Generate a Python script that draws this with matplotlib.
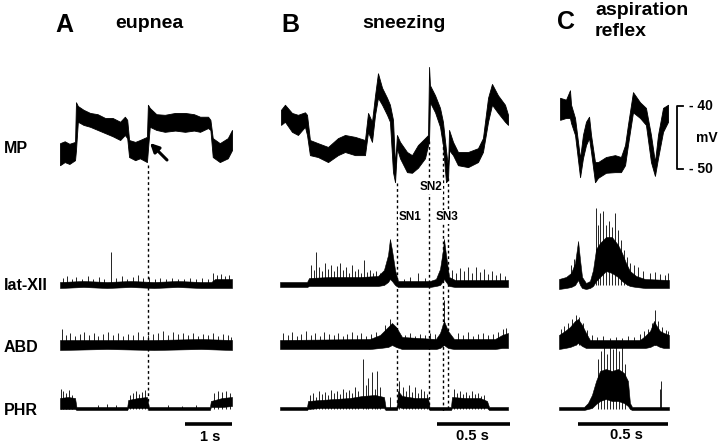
import numpy as np
import matplotlib
import matplotlib.pyplot as plt

matplotlib.rcParams['font.family'] = ['Liberation Sans', 'DejaVu Sans']
matplotlib.rcParams['font.weight'] = 'bold'

# ------------------------------------------------------------
# A: eupnea  (time in s, MP in mV, nerve traces in a.u.)
# ------------------------------------------------------------
a_mp_t = [0.00, 0.10, 0.20, 0.32, 0.34, 0.38, 0.50, 0.64, 0.80, 0.96, 1.12, 1.28, 1.38, 1.43, 1.47, 1.60,
          1.70, 1.85, 1.87, 1.91, 2.05, 2.23, 2.45, 2.66, 2.85, 2.98, 3.15, 3.20, 3.25, 3.40, 3.57, 3.66]
a_mp_hi = [-45.9, -45.6, -46.0, -45.7, -39.4, -40.0, -40.6, -41.1, -41.3, -41.9, -41.9, -42.5, -41.7, -42.2, -45.4, -45.7,
           -45.4, -44.9, -39.8, -40.3, -41.3, -41.4, -41.1, -41.1, -41.3, -41.7, -41.7, -42.2, -45.1, -45.9, -45.1, -43.8]
a_mp_lo = [-49.4, -48.9, -49.2, -48.6, -47.0, -42.5, -43.0, -43.3, -43.8, -44.3, -44.8, -45.4, -44.6, -45.1, -48.1, -48.6,
           -48.3, -48.9, -47.0, -43.3, -43.8, -44.1, -43.9, -44.1, -43.9, -44.1, -43.5, -43.8, -48.1, -48.9, -48.3, -47.0]

a_lat_t = [0.0, 0.5, 1.0, 1.5, 2.0, 2.5, 3.0, 3.22, 3.3, 3.66]
a_lat_hi = [3, 4, 3, 4, 3, 4, 3, 3, 6, 6]
a_lat_lo = [-3, -2, -3, -2, -3, -2, -3, -3, -3, -3]
a_lat_sp_t = [0.06, 0.15, 0.26, 0.34, 0.47, 0.60, 0.70, 0.83, 0.94, 1.09, 1.19, 1.32, 1.43, 1.55, 1.66, 1.77,
              1.89, 2.02, 2.13, 2.26, 2.38, 2.51, 2.64, 2.77, 2.89, 3.02, 3.15, 3.26, 3.34, 3.43, 3.51, 3.60]
a_lat_sp_h = [7, 9, 6, 8, 6, 9, 6, 8, 6, 33, 7, 9, 6, 8, 10, 7, 8, 6, 7, 6, 7, 6, 6, 7, 6, 7, 6, 12, 10, 11, 9, 10]

a_abd_t = [0.0, 1.0, 2.0, 3.0, 3.66]
a_abd_hi = [5, 5, 5, 6, 5]
a_abd_lo = [-5, -4, -5, -4, -5]
a_abd_sp_t = [0.04, 0.13, 0.21, 0.32, 0.43, 0.51, 0.62, 0.72, 0.81, 0.91, 1.02, 1.13, 1.23, 1.34, 1.45, 1.55, 1.66, 1.77,
              1.87, 1.98, 2.09, 2.19, 2.30, 2.40, 2.51, 2.62, 2.72, 2.83, 2.94, 3.04, 3.15, 3.26, 3.36, 3.47, 3.57, 3.64]
a_abd_sp_h = [16, 10, 12, 9, 11, 13, 10, 12, 9, 11, 13, 10, 12, 9, 11, 10, 13, 9,
              10, 11, 12, 14, 10, 13, 11, 12, 10, 12, 9, 11, 10, 12, 9, 11, 10, 8]

a_phr_t = [0.00, 0.17, 0.32, 0.35, 1.43, 1.45, 1.66, 1.85, 1.89, 3.19, 3.21, 3.45, 3.66]
a_phr_hi = [11, 12, 11, 2, 2, 9, 11, 12, 2, 2, 8, 11, 12]
a_phr_lo = [0, 0, 0, -1, -1, 1, 1, 1, -1, -1, 2, 2, 3]
a_phr_sp_t = [0.02, 0.06, 0.13, 0.19, 0.26, 0.8, 1.0, 1.2, 1.49, 1.55, 1.62, 1.68, 1.74, 1.81,
              2.3, 2.6, 2.9, 3.28, 3.36, 3.45, 3.53, 3.62]
a_phr_sp_h = [20, 18, 16, 19, 14, 4, 5, 4, 14, 16, 18, 15, 17, 19, 4, 3, 4, 16, 18, 17, 18, 16]

a_marks_t = [1.872]

# ------------------------------------------------------------
# B: sneezing
# ------------------------------------------------------------
b_mp_t = [0.007, 0.034, 0.082, 0.123, 0.171, 0.185, 0.205, 0.260, 0.329, 0.397, 0.445, 0.514, 0.582, 0.603,
          0.630, 0.651, 0.671, 0.699, 0.733, 0.753, 0.774, 0.788, 0.801, 0.822, 0.870, 0.904, 0.945, 0.993,
          1.014, 1.021, 1.027, 1.062, 1.096, 1.116, 1.137, 1.151, 1.158, 1.185, 1.219, 1.288, 1.356, 1.390,
          1.425, 1.452, 1.493, 1.541, 1.562]
b_mp_hi = [-40.6, -39.8, -41.1, -41.4, -41.0, -41.4, -45.4, -45.9, -46.5, -45.1, -44.6, -44.9, -45.4, -41.1,
           -42.5, -38.3, -34.8, -37.1, -38.7, -39.8, -42.2, -49.4, -44.6, -45.7, -47.3, -47.8, -46.2, -45.1,
           -44.6, -33.8, -36.7, -38.3, -40.3, -42.5, -47.0, -49.8, -43.8, -45.7, -47.3, -47.3, -46.7, -45.1,
           -38.7, -36.5, -38.3, -39.8, -41.4]
b_mp_lo = [-43.0, -42.5, -44.1, -44.6, -43.3, -44.6, -47.8, -48.1, -48.9, -47.8, -47.3, -47.8, -47.8, -44.1,
           -45.7, -41.4, -38.7, -39.8, -41.4, -42.5, -50.5, -52.1, -46.7, -48.3, -50.5, -50.6, -49.8, -48.3,
           -46.2, -45.4, -39.4, -41.0, -43.3, -46.2, -52.1, -51.7, -47.0, -47.8, -49.4, -49.7, -48.9, -47.3,
           -42.5, -39.8, -41.1, -42.5, -43.0]

b_lat_t = [0.000, 0.185, 0.199, 0.342, 0.548, 0.671, 0.712, 0.740, 0.753, 0.767, 0.788, 0.808, 1.027, 1.068,
           1.096, 1.116, 1.123, 1.137, 1.158, 1.199, 1.562]
b_lat_hi = [3, 3, 7, 8, 8, 9, 15, 30, 46, 35, 15, 4, 4, 6, 16, 35, 46, 30, 8, 5, 5]
b_lat_lo = [-2, -2, -1, -1, -1, -1, 0, 3, 6, 4, 0, -2, -2, -1, 0, 4, 6, 3, -1, -2, -2]
b_lat_sp_t = [0.212, 0.233, 0.247, 0.267, 0.288, 0.308, 0.329, 0.349, 0.370, 0.390, 0.411, 0.432, 0.452, 0.473,
              0.493, 0.514, 0.534, 0.555, 0.575, 0.596, 0.616, 0.637, 0.658, 0.685, 0.849, 0.890, 0.945, 0.993,
              1.178, 1.205, 1.233, 1.260, 1.288, 1.315, 1.342, 1.370, 1.397, 1.425, 1.452, 1.479, 1.507, 1.541]
b_lat_sp_h = [20, 15, 33, 18, 14, 22, 16, 20, 14, 19, 22, 15, 18, 12, 20, 14, 16, 12, 25, 13, 15, 12, 14, 12,
              6, 8, 12, 7, 15, 12, 17, 14, 18, 12, 18, 13, 16, 11, 14, 10, 12, 9]

b_abd_t = [0.0, 0.616, 0.685, 0.740, 0.767, 0.795, 0.836, 1.068, 1.096, 1.123, 1.151, 1.192, 1.473, 1.521, 1.562]
b_abd_hi = [5, 6, 10, 18, 22, 18, 8, 6, 12, 24, 14, 6, 6, 10, 12]
b_abd_lo = [-4, -4, -3, -2, 0, -2, -4, -4, -3, 0, -3, -4, -4, -3, -3]
b_abd_sp_t = [0.021, 0.055, 0.082, 0.116, 0.144, 0.178, 0.212, 0.240, 0.274, 0.301, 0.336, 0.370, 0.397, 0.432,
              0.459, 0.493, 0.527, 0.555, 0.589, 0.623, 0.658, 0.719, 0.753, 0.788, 0.856, 0.890, 0.925, 0.959,
              0.993, 1.027, 1.062, 1.123, 1.219, 1.253, 1.288, 1.322, 1.356, 1.390, 1.425, 1.459, 1.493, 1.527, 1.548]
b_abd_sp_h = [12, 10, 13, 9, 11, 14, 10, 12, 9, 13, 11, 10, 12, 9, 11, 13, 10, 12, 9, 11, 13, 20, 26, 18,
              10, 12, 9, 11, 10, 12, 11, 45, 12, 10, 13, 9, 11, 12, 10, 11, 13, 16, 17]

b_phr_t = [0.0, 0.185, 0.192, 0.274, 0.377, 0.479, 0.562, 0.651, 0.712, 0.723, 0.801, 0.808, 0.836, 0.925,
           1.014, 1.024, 1.171, 1.178, 1.267, 1.370, 1.418, 1.432, 1.562]
b_phr_hi = [2, 2, 8, 9, 10, 11, 13, 14, 12, 2, 2, 18, 13, 11, 11, 2, 2, 12, 11, 11, 8, 2, 2]
b_phr_lo = [-1, -1, 0, 1, 1, 1, 1, 1, 1, -1, -1, 2, 1, 1, 1, -1, -1, 1, 1, 1, 1, -1, -1]
b_phr_sp_t = [0.205, 0.226, 0.247, 0.267, 0.288, 0.308, 0.329, 0.349, 0.370, 0.390, 0.411, 0.432, 0.452, 0.473,
              0.493, 0.514, 0.534, 0.568, 0.589, 0.603, 0.630, 0.651, 0.664, 0.685, 0.753, 0.815, 0.842, 0.863,
              0.884, 0.904, 0.925, 0.945, 0.966, 0.986, 1.007, 1.192, 1.212, 1.233, 1.253, 1.274, 1.295, 1.315,
              1.336, 1.356, 1.377, 1.397]
b_phr_sp_h = [14, 16, 12, 18, 15, 17, 14, 19, 16, 18, 15, 20, 17, 19, 16, 22, 18, 50, 24, 31, 37, 20, 38, 22,
              12, 28, 22, 18, 24, 17, 22, 16, 20, 18, 15, 20, 16, 18, 15, 17, 14, 18, 15, 16, 13, 14]

sneeze_marks_t = [0.799, 1.022, 1.114, 1.154]
sneeze_labels = ['SN1', 'SN2', 'SN3']

# ------------------------------------------------------------
# C: aspiration reflex
# ------------------------------------------------------------
c_mp_t = [0.006, 0.039, 0.061, 0.067, 0.089, 0.117, 0.133, 0.150, 0.167, 0.178, 0.200, 0.217, 0.261,
          0.311, 0.344, 0.367, 0.383, 0.411, 0.450, 0.483, 0.511, 0.533, 0.550, 0.578, 0.606]
c_mp_hi = [-38.7, -39.0, -37.5, -39.8, -41.9, -48.3, -44.6, -42.5, -41.7, -44.6, -48.9, -48.9, -48.1,
           -47.8, -48.1, -46.2, -43.0, -37.8, -39.4, -40.3, -44.6, -48.9, -44.6, -40.3, -39.8]
c_mp_lo = [-42.2, -41.9, -41.9, -42.7, -44.6, -51.3, -48.3, -46.2, -45.1, -47.3, -52.1, -51.4, -50.6,
           -50.5, -50.5, -49.4, -46.2, -41.0, -41.9, -43.0, -48.9, -51.1, -48.3, -44.1, -42.5]

c_lat_t = [0, 0.039, 0.067, 0.089, 0.106, 0.117, 0.128, 0.150, 0.172, 0.189, 0.206, 0.228, 0.261, 0.294,
           0.328, 0.350, 0.372, 0.394, 0.428, 0.478, 0.611]
c_lat_hi = [6, 8, 12, 22, 44, 25, 8, 2, 4, 15, 36, 42, 48, 48, 40, 32, 22, 14, 9, 6, 5]
c_lat_lo = [-4, -3, -2, 0, 5, 0, -3, -4, -3, -1, 4, 8, 14, 12, 8, 4, 1, -1, -2, -3, -3]
c_lat_sp_t = [0.067, 0.083, 0.206, 0.217, 0.228, 0.244, 0.261, 0.278, 0.294, 0.311, 0.328, 0.344, 0.361,
              0.378, 0.394, 0.417, 0.439, 0.467, 0.506, 0.533, 0.561, 0.589, 0.606]
c_lat_sp_h = [20, 26, 77, 60, 72, 74, 60, 64, 58, 72, 55, 45, 35, 28, 22, 20, 18, 14, 12, 13, 11, 10, 12]

c_abd_t = [0, 0.033, 0.061, 0.089, 0.106, 0.128, 0.150, 0.172, 0.450, 0.478, 0.506, 0.528, 0.539, 0.561,
           0.583, 0.611]
c_abd_hi = [10, 14, 18, 24, 26, 20, 12, 5, 5, 9, 14, 24, 20, 14, 12, 10]
c_abd_lo = [-4, -3, -2, 0, 2, -1, -3, -3, -3, -3, -2, 0, 0, -2, -3, -3]
c_abd_sp_t = [0.011, 0.028, 0.050, 0.072, 0.094, 0.111, 0.133, 0.156, 0.183, 0.211, 0.244, 0.283, 0.317,
              0.350, 0.383, 0.417, 0.450, 0.472, 0.494, 0.517, 0.533, 0.550, 0.572, 0.594, 0.606]
c_abd_sp_h = [16, 19, 22, 26, 30, 28, 22, 15, 10, 8, 9, 7, 8, 7, 9, 8, 11, 14, 16, 22, 35, 24, 18, 15, 14]

c_phr_t = [0, 0.139, 0.161, 0.183, 0.206, 0.228, 0.261, 0.294, 0.328, 0.361, 0.383, 0.394, 0.406, 0.611]
c_phr_hi = [2, 2, 6, 14, 28, 38, 40, 38, 40, 36, 28, 6, 2, 2]
c_phr_lo = [-1, -1, 0, 1, 5, 8, 10, 8, 8, 6, 3, 0, -1, -1]
c_phr_sp_t = [0.217, 0.233, 0.250, 0.267, 0.283, 0.300, 0.317, 0.333, 0.350, 0.367, 0.561, 0.567]
c_phr_sp_h = [50, 58, 62, 55, 66, 60, 64, 58, 66, 45, 20, 28]

row_labels = ['MP', 'lat-XII', 'ABD', 'PHR']

# ------------------------------------------------------------
# layout (figure pixels)
# ------------------------------------------------------------
W, H = 720, 444
MV_REF, MV_REF_Y, PX_PER_MV = -40.0, 106, 6.3
BASE_LAT, BASE_ABD, BASE_PHR = 285, 345, 409
BAR_Y = 424

fig = plt.figure(figsize=(W / 100, H / 100), dpi=100)


def mv2y(v):
    return MV_REF_Y + (MV_REF - np.asarray(v, dtype=float)) * PX_PER_MV


def panel_axes(x0, px_per_s):
    ax = fig.add_axes([0, 0, 1, 1])
    ax.set_xlim(-x0 / px_per_s, (W - x0) / px_per_s)
    ax.set_ylim(H, 0)
    ax.set_axis_off()
    return ax


def draw_mp(ax, t, hi, lo):
    ax.fill_between(t, mv2y(hi), mv2y(lo), color='black', lw=0.6)


def draw_nerve(ax, base, t, hi, lo, sp_t, sp_h):
    ax.fill_between(t, base - np.array(hi), base - np.array(lo), color='black', lw=0.4)
    ax.vlines(sp_t, base, base - np.array(sp_h), color='black', lw=0.6)


def scale_bar(ax, t0, length):
    ax.plot([t0, t0 + length], [BAR_Y, BAR_Y], color='black', lw=2.6, solid_capstyle='butt')


axA = panel_axes(60, 47.0)
axB = panel_axes(280, 146.0)
axC = panel_axes(559, 180.0)

draw_mp(axA, a_mp_t, a_mp_hi, a_mp_lo)
draw_nerve(axA, BASE_LAT, a_lat_t, a_lat_hi, a_lat_lo, a_lat_sp_t, a_lat_sp_h)
draw_nerve(axA, BASE_ABD, a_abd_t, a_abd_hi, a_abd_lo, a_abd_sp_t, a_abd_sp_h)
draw_nerve(axA, BASE_PHR, a_phr_t, a_phr_hi, a_phr_lo, a_phr_sp_t, a_phr_sp_h)
axA.vlines(a_marks_t, 165, 410, color='black', lw=1, linestyles=(0, (2, 2)))
scale_bar(axA, a_mp_t[-1] - 1.0, 1.0)

draw_mp(axB, b_mp_t, b_mp_hi, b_mp_lo)
draw_nerve(axB, BASE_LAT, b_lat_t, b_lat_hi, b_lat_lo, b_lat_sp_t, b_lat_sp_h)
draw_nerve(axB, BASE_ABD, b_abd_t, b_abd_hi, b_abd_lo, b_abd_sp_t, b_abd_sp_h)
draw_nerve(axB, BASE_PHR, b_phr_t, b_phr_hi, b_phr_lo, b_phr_sp_t, b_phr_sp_h)
axB.vlines(sneeze_marks_t, [183, 141, 141, 178], [409, 409, 411, 411], color='black', lw=1,
           linestyles=(0, (2, 2)))
scale_bar(axB, 1.075, 0.5)

draw_mp(axC, c_mp_t, c_mp_hi, c_mp_lo)
draw_nerve(axC, BASE_LAT, c_lat_t, c_lat_hi, c_lat_lo, c_lat_sp_t, c_lat_sp_h)
draw_nerve(axC, BASE_ABD, c_abd_t, c_abd_hi, c_abd_lo, c_abd_sp_t, c_abd_sp_h)
draw_nerve(axC, BASE_PHR, c_phr_t, c_phr_hi, c_phr_lo, c_phr_sp_t, c_phr_sp_h)
scale_bar(axC, 0.106, 0.5)

# text / annotation layer in pixel coordinates
lab = fig.add_axes([0, 0, 1, 1])
lab.set_xlim(0, W)
lab.set_ylim(H, 0)
lab.set_axis_off()

for x, y, s in [(55, 31.5, 'A'), (281, 31.5, 'B'), (557, 29, 'C')]:
    lab.text(x, y, s, fontsize=18, fontweight='bold', va='baseline')
for x, y, s in [(115, 28.5, 'eupnea'), (362, 28.5, 'sneezing'), (595, 15, 'aspiration'), (595, 36, 'reflex')]:
    lab.text(x, y, s, fontsize=14, fontweight='bold', va='baseline')

for y, s in zip([152.5, 289.5, 351.5, 414.5], row_labels):
    lab.text(4, y, s, fontsize=11.5, fontweight='bold', va='baseline')

for (x, y), s in zip([(410, 217), (431, 187), (447, 217)], sneeze_labels):
    lab.text(x, y, s, fontsize=8.5, fontweight='bold', ha='center', va='center',
             bbox=dict(facecolor='white', edgecolor='none', pad=0.6))

lab.annotate('', xy=(150, 143), xytext=(167, 160),
             arrowprops=dict(arrowstyle='-|>', lw=2.2, color='black', mutation_scale=13,
                             shrinkA=0, shrinkB=0))

for x, y, s in [(210, 440.5, '1 s'), (472, 440, '0.5 s'), (626, 439, '0.5 s')]:
    lab.text(x, y, s, fontsize=10.5, fontweight='bold', ha='center', va='baseline')

# mV calibration bracket
y40, y50 = mv2y(-40), mv2y(-50)
lab.plot([683, 677, 677, 683], [y40, y40, y50, y50], color='black', lw=1.3)
lab.text(689, y40, '- 40', fontsize=10, fontweight='bold', va='center')
lab.text(696, (y40 + y50) / 2, 'mV', fontsize=10, fontweight='bold', va='center')
lab.text(689, y50, '- 50', fontsize=10, fontweight='bold', va='center')

fig.savefig('out.png', dpi=100)
